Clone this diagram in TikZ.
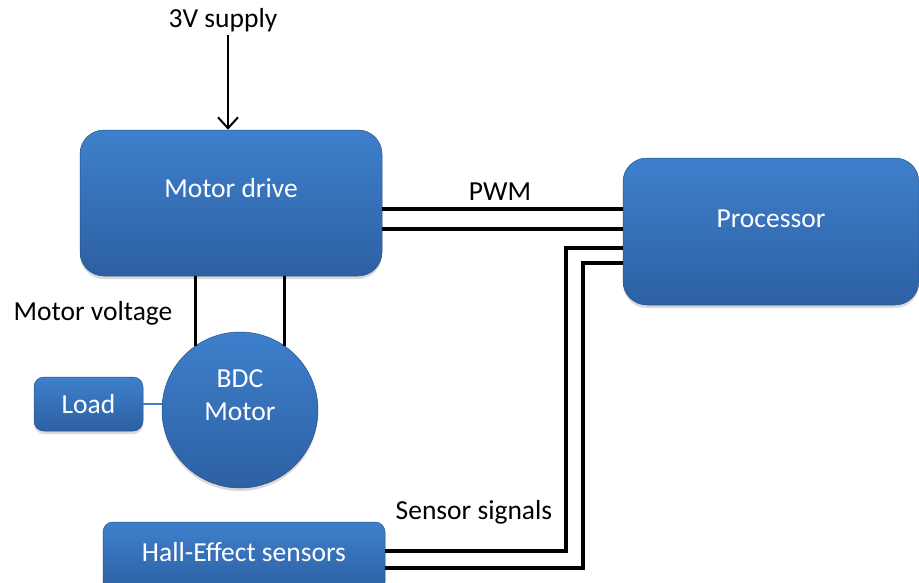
\documentclass[tikz,border=0pt]{standalone}
\usepackage{fontspec}
\setmainfont{Carlito}
\usetikzlibrary{arrows.meta, positioning, shadows}
\definecolor{boxtop}{RGB}{62,128,204}
\definecolor{boxbot}{RGB}{45,96,163}

\begin{document}
\begin{tikzpicture}[
    x=1pt, y=-1pt,
    every node/.style={font=\fontsize{27.5}{33}\selectfont},
    block/.style={rectangle, rounded corners=24pt, draw=boxbot!85!black, line width=0.5pt,
                  top color=boxtop, bottom color=boxbot, text=white, inner sep=0pt,
                  text height=18pt,
                  drop shadow={shadow xshift=0pt, shadow yshift=-3pt, opacity=0.3}},
    smallblock/.style={block, rounded corners=10pt},
    motorshape/.style={circle, draw=boxbot!85!black, line width=0.5pt, inner sep=0pt,
                  top color=boxtop, bottom color=boxbot, minimum size=156pt,
                  drop shadow={shadow xshift=0pt, shadow yshift=-3pt, opacity=0.3}},
    wire/.style={line width=3.5pt, draw=black, line join=miter},
    feed/.style={-{Straight Barb[length=11pt, width=20pt]}, line width=2pt},
    link/.style={line width=1.5pt, draw=boxtop},
]
\useasboundingbox (0,0) rectangle (919,582);

\node (supply) at (223,20) {3V supply};
\node[block, minimum width=302pt, minimum height=146pt, text depth=30pt] (drive) at (231,203) {Motor drive};
\node[block, minimum width=296pt, minimum height=147pt, text depth=26pt] (proc) at (771,231.5) {Processor};
\node[motorshape, label={[text=white, align=center, yshift=15pt]center:BDC\\Motor}] (motor) at (240,410) {};
\node[smallblock, minimum width=109pt, minimum height=54pt, text depth=0pt] (load) at (88.5,404) {Load};
\node[smallblock, minimum width=282pt, minimum height=70pt, text depth=10pt] (hall) at (244,557) {Hall-Effect sensors};

\node (pwm) at (500,192) {PWM};
\node (volt) at (93,313) {Motor voltage};
\node (sense) at (474,512) {Sensor signals};

\coordinate (s1) at (566,248);
\coordinate (s2) at (583,263);

\draw[feed] ([xshift=5pt]supply.south) -- ([xshift=5pt]supply.south |- drive.north);
\draw[wire] ([yshift=-6pt]drive.east) -- ([yshift=-6pt]drive.east -| proc.west);
\draw[wire] ([yshift=-26pt]drive.east) -- ([yshift=-26pt]drive.east -| proc.west);
\draw[wire, line width=3pt] (motor.125) -- (motor.125 |- drive.south);
\draw[wire, line width=3pt] (motor.55) -- (motor.55 |- drive.south);
\draw[link] (load.east) -- (load.east -| motor.west);
\draw[wire] ([yshift=6pt]hall.east) -| (s1) -- (s1 -| proc.west);
\draw[wire] ([yshift=-11pt]hall.east) -| (s2) -- (s2 -| proc.west);
\end{tikzpicture}
\end{document}
